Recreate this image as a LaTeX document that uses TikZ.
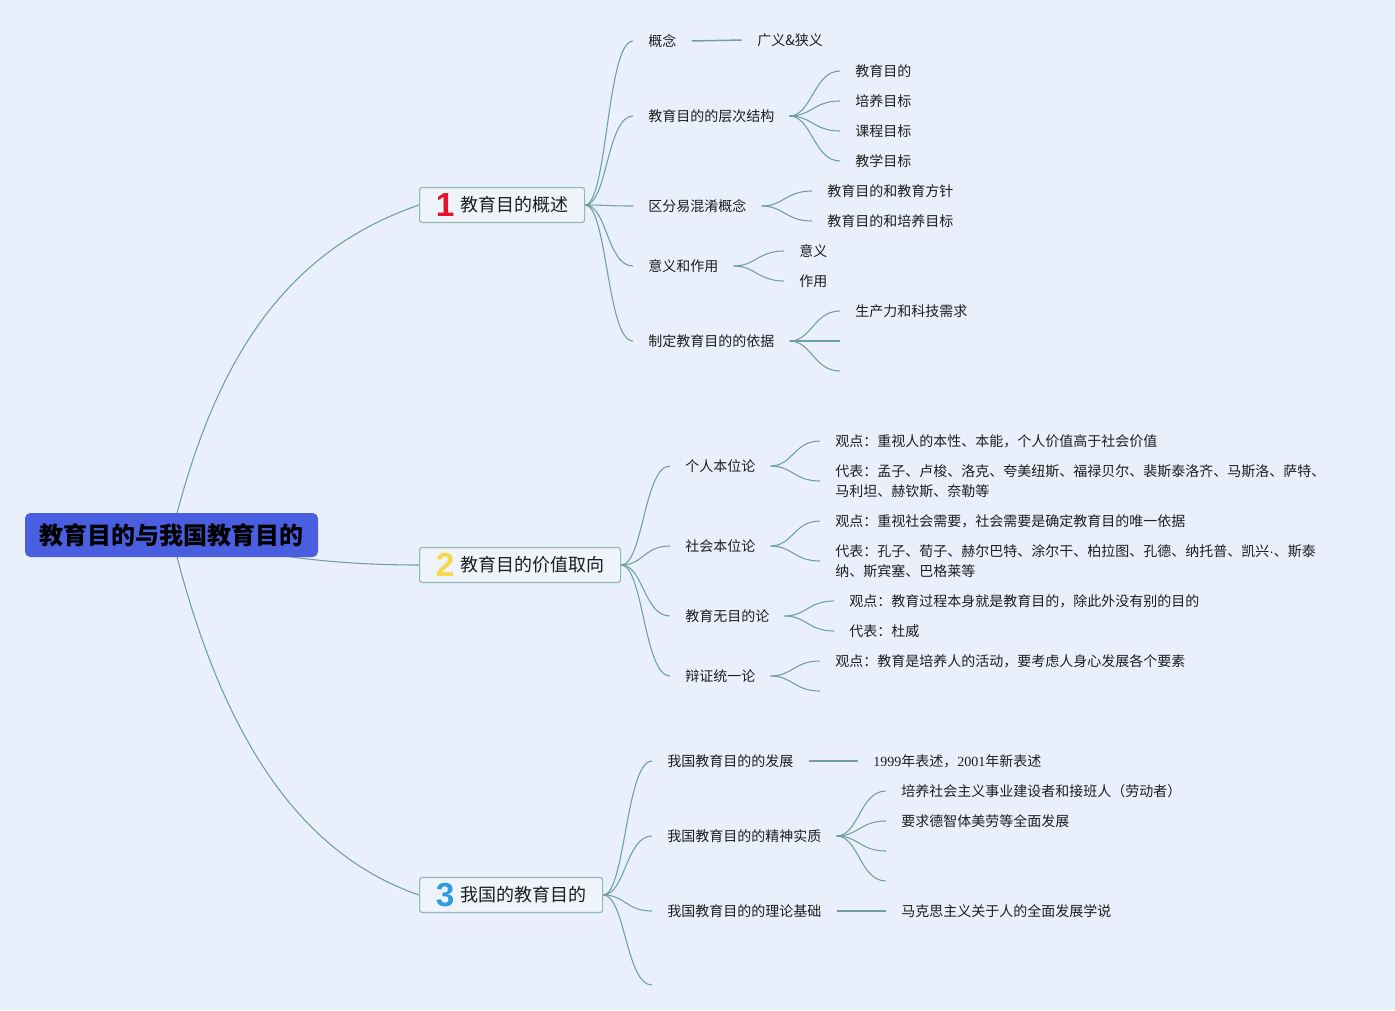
\documentclass[tikz,border=0pt]{standalone}
\usepackage{fontspec}
\setmainfont{Noto Sans CJK SC}
\newfontfamily\numfont{Liberation Sans}
\newfontfamily\serifnum{Liberation Serif}
\usetikzlibrary{backgrounds}
\definecolor{bgc}{HTML}{EAF0FB}
\definecolor{linec}{HTML}{6FA09D}
\definecolor{boxb}{HTML}{8FBAB7}
\definecolor{boxf}{HTML}{EEF4F9}
\definecolor{rootc}{HTML}{4A5EE0}
\definecolor{txt}{HTML}{1E1E1E}
\definecolor{nonec}{HTML}{E3132C}
\definecolor{ntwoc}{HTML}{F5D848}
\definecolor{nthreec}{HTML}{2D9CDF}
\newcommand\numicon[2]{\raisebox{-3.5pt}{\fontsize{25}{25}\selectfont\numfont\bfseries\color{#1}#2}\hspace{4.5pt}}
\begin{document}
\begin{tikzpicture}[x=0.75pt,y=-0.75pt,
  conn/.style={draw=linec, line width=0.8pt},
  leaf/.style={anchor=west, inner xsep=11.25pt, inner ysep=2pt, font=\fontsize{10.5}{15}\selectfont, text=txt, align=left},
  mainbox/.style={draw=boxb, fill=boxf, line width=0.9pt, rounded corners=2pt, minimum height=26.25pt, anchor=west, inner xsep=0pt, font=\fontsize{13.5}{16}\selectfont, text=txt},
  rootbox/.style={fill=rootc, rounded corners=4pt, minimum width=219.75pt, minimum height=33pt, font=\fontsize{18}{22}\selectfont\bfseries, text=black},
]
\begin{scope}[on background layer]
\fill[bgc] (0,0) rectangle (1395,1010);
\end{scope}
\useasboundingbox (0,0) rectangle (1395,1010);

% root and main topics
\node[rootbox] (root) at (171.5,535) {教育目的与我国教育目的};
\node[mainbox, minimum width=123.75pt] (m1) at (419,205) {\numicon{nonec}{1}教育目的概述};
\node[mainbox, minimum width=150.75pt] (m2) at (419,565) {\numicon{ntwoc}{2}教育目的价值取向};
\node[mainbox, minimum width=137.25pt] (m3) at (419,895) {\numicon{nthreec}{3}我国的教育目的};

% branch 1
\node[leaf] (a1) at (633,41) {概念};
\node[leaf] (a2) at (633,116) {教育目的的层次结构};
\node[leaf] (a3) at (633,206) {区分易混淆概念};
\node[leaf] (a4) at (633,266) {意义和作用};
\node[leaf] (a5) at (633,341) {制定教育目的的依据};

\node[leaf] (a11) at (742,40) {广义\&狭义};
\node[leaf] (a21) at (840,71) {教育目的};
\node[leaf] (a22) at (840,101) {培养目标};
\node[leaf] (a23) at (840,131) {课程目标};
\node[leaf] (a24) at (840,161) {教学目标};
\node[leaf] (a31) at (812,191) {教育目的和教育方针};
\node[leaf] (a32) at (812,221) {教育目的和培养目标};
\node[leaf] (a41) at (784,251) {意义};
\node[leaf] (a42) at (784,281) {作用};
\node[leaf] (a51) at (840,311) {生产力和科技需求};
\coordinate (a52) at (840,341);
\coordinate (a53) at (840,371);

% branch 2
\node[leaf] (b1) at (670,466) {个人本位论};
\node[leaf] (b2) at (670,546) {社会本位论};
\node[leaf] (b3) at (670,616) {教育无目的论};
\node[leaf] (b4) at (670,676) {辩证统一论};

\node[leaf] (b11) at (820,441) {观点：重视人的本性、本能，个人价值高于社会价值};
\node[leaf] (b12) at (820,481) {代表：孟子、卢梭、洛克、夸美纽斯、福禄贝尔、裴斯泰洛齐、马斯洛、萨特、\\马利坦、赫钦斯、奈勒等};
\node[leaf] (b21) at (820,521) {观点：重视社会需要，社会需要是确定教育目的唯一依据};
\node[leaf] (b22) at (820,561) {代表：孔子、荀子、赫尔巴特、涂尔干、柏拉图、孔德、纳托普、凯兴{\numfont ·}、斯泰\\纳、斯宾塞、巴格莱等};
\node[leaf] (b31) at (834,601) {观点：教育过程本身就是教育目的，除此外没有别的目的};
\node[leaf] (b32) at (834,631) {代表：杜威};
\node[leaf] (b41) at (820,661) {观点：教育是培养人的活动，要考虑人身心发展各个要素};
\coordinate (b42) at (820,691);

% branch 3
\node[leaf] (c1) at (652,761) {我国教育目的的发展};
\node[leaf] (c2) at (652,836) {我国教育目的的精神实质};
\node[leaf] (c3) at (652,911) {我国教育目的的理论基础};
\coordinate (c4) at (652,985);

\node[leaf] (c11) at (858,761) {{\serifnum 1999}年表述，{\serifnum 2001}年新表述};
\node[leaf] (c21) at (886,791) {培养社会主义事业建设者和接班人（劳动者）};
\node[leaf] (c22) at (886,821) {要求德智体美劳等全面发展};
\coordinate (c23) at (886,851);
\coordinate (c24) at (886,881);
\node[leaf] (c31) at (886,911) {马克思主义关于人的全面发展学说};

\begin{scope}[on background layer]
% root connectors
\draw[conn] (root.center) .. controls (215,355) and (288,250) .. (m1.west);
\draw[conn] (root.center) .. controls (260,555) and (330,565) .. (m2.west);
\draw[conn] (root.center) .. controls (215,715) and (288,850) .. (m3.west);

% fans
\foreach \p/\c in {m1/a1,m1/a2,m1/a3,m1/a4,m1/a5,
                   a2/a21,a2/a22,a2/a23,a2/a24,
                   a3/a31,a3/a32,a4/a41,a4/a42,
                   m2/b1,m2/b2,m2/b3,m2/b4,
                   b1/b11,b1/b12,b2/b21,b2/b22,b3/b31,b3/b32,b4/b41,
                   m3/c1,m3/c2,m3/c3,
                   c2/c21,c2/c22,a5/a51}
  \draw[conn] (\p.east) .. controls +(22,0) and +(-26,0) .. (\c.west);
\foreach \p/\c in {a5/a52,a5/a53,b4/b42,m3/c4,c2/c23,c2/c24}
  \draw[conn] (\p.east) .. controls +(22,0) and +(-26,0) .. (\c);
\draw[conn, line width=1.1pt] (a1.east) -- (a11.west);
\draw[conn, line width=1.1pt] (c1.east) -- (c11.west);
\draw[conn, line width=1.1pt] (c3.east) -- (c31.west);
\end{scope}
\end{tikzpicture}
\end{document}
